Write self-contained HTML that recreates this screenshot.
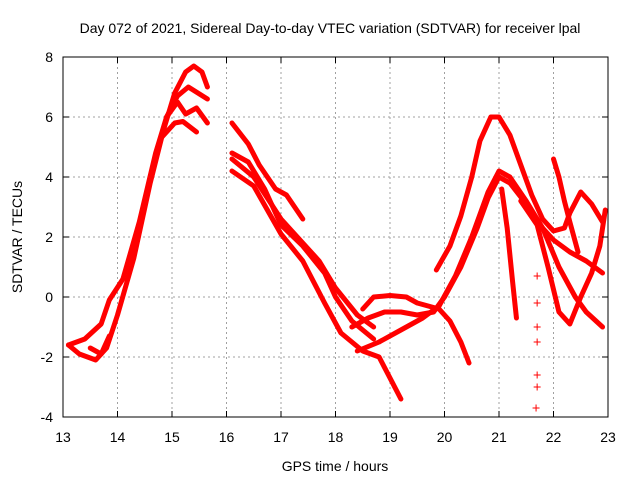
<!DOCTYPE html>
<html><head><meta charset="utf-8"><style>
body{margin:0;background:#fff}
svg text{font-family:"Liberation Sans",sans-serif;font-size:14px;fill:#000}
</style></head><body>
<svg id="chart" width="640" height="480" xmlns="http://www.w3.org/2000/svg">
<text x="330" y="33" text-anchor="middle">Day 072 of 2021, Sidereal Day-to-day VTEC variation (SDTVAR) for receiver lpal</text>
<text x="335" y="471" text-anchor="middle">GPS time / hours</text>
<text transform="translate(22,237) rotate(-90)" text-anchor="middle">SDTVAR / TECUs</text>
<g id="grid"></g><g id="series"></g><g id="axes"></g>
</svg>
<script>
const xTicks=[13,14,15,16,17,18,19,20,21,22,23];
const yTicks=[-4,-2,0,2,4,6,8];
const trackA=[[13.1,-1.6],[13.3,-1.9],[13.6,-2.1],[13.8,-1.7],[14.0,-0.6],[14.3,1.3],[14.6,3.8],[14.85,5.6],[15.05,6.8],[15.25,7.5],[15.4,7.7],[15.55,7.5],[15.65,7.0]];
const trackB=[[13.1,-1.6],[13.4,-1.4],[13.7,-0.9],[13.85,-0.1],[14.1,0.6],[14.4,2.5],[14.7,4.8],[14.9,6],[15.1,6.7],[15.3,7.0],[15.65,6.6]];
const trackC=[[14.9,6.0],[15.1,6.5],[15.25,6.1],[15.45,6.3],[15.65,5.8]];
const trackD=[[14.8,5.3],[15.05,5.8],[15.2,5.85],[15.45,5.5]];
const trackLoop=[[13.5,-1.7],[13.7,-1.9],[13.85,-1.3]];
const trackE=[[16.1,5.8],[16.4,5.1],[16.6,4.4],[16.9,3.6],[17.1,3.4],[17.4,2.6]];
const trackF=[[16.1,4.8],[16.4,4.5],[16.7,3.6],[17.0,2.4],[17.4,1.7],[17.8,0.8],[18.0,0],[18.3,-0.8],[18.7,-1.4]];
const trackG=[[16.1,4.6],[16.5,4.0],[17.0,2.6],[17.3,2.0],[17.7,1.2],[18.0,0.3],[18.4,-0.6],[18.7,-1.0]];
const trackH=[[16.1,4.2],[16.5,3.7],[17.0,2.1],[17.4,1.2],[17.8,-0.2],[18.1,-1.2],[18.5,-1.8],[18.8,-2.0],[19.0,-2.7],[19.2,-3.4]];
const trackI=[[18.5,-0.4],[18.7,0.0],[19.0,0.05],[19.3,0],[19.5,-0.2],[19.9,-0.4],[20.1,-0.8],[20.3,-1.5],[20.45,-2.2]];
const trackJ=[[18.3,-1.0],[18.6,-0.7],[18.9,-0.5],[19.2,-0.5],[19.5,-0.6],[19.8,-0.5],[20.0,0],[20.3,1],[20.6,2.3],[20.8,3.3],[21.0,4.0],[21.2,3.8],[21.5,3.1],[21.8,2.3],[22.0,1.9],[22.3,1.5],[22.6,1.2],[22.9,0.8]];
const trackK=[[18.4,-1.8],[18.8,-1.5],[19.2,-1.1],[19.6,-0.7],[19.9,-0.3],[20.2,0.7],[20.5,2],[20.8,3.5],[21.0,4.2],[21.2,4.0],[21.5,3.2],[21.8,2.3],[22.1,1.0],[22.4,0],[22.6,-0.5],[22.9,-1.0]];
const trackL=[[19.85,0.9],[20.1,1.7],[20.3,2.7],[20.5,4.0],[20.65,5.2],[20.85,6.0],[21.0,6.0],[21.2,5.4],[21.4,4.4],[21.6,3.4],[21.8,2.6],[22.0,2.2],[22.2,2.3],[22.3,2.8],[22.5,3.5],[22.7,3.1],[22.9,2.5]];
const trackM=[[21.4,3.2],[21.7,2.4],[21.9,1.0],[22.1,-0.5],[22.3,-0.9],[22.5,0],[22.7,0.8],[22.85,1.7],[22.95,2.9]];
const trackN=[[21.05,3.6],[21.15,2.3],[21.25,0.5],[21.32,-0.7]];
const trackO=[[22.0,4.6],[22.1,4.0],[22.2,3.2],[22.3,2.5],[22.45,1.5]];
const sparseT=[21.7,21.7,21.7,21.7,21.7,21.7,21.68];
const sparseV=[0.7,-0.2,-1.0,-1.5,-2.6,-3.0,-3.7];
const tracks=[trackA,trackB,trackC,trackD,trackLoop,trackE,trackF,trackG,trackH,trackI,trackJ,trackK,trackL,trackM,trackN,trackO];
const X0=63,X1=608,Y0=417,Y1=57;
const sx=t=>X0+(t-13)/(23-13)*(X1-X0);
const sy=v=>Y0-(v+4)/12*(Y0-Y1);
const NS='http://www.w3.org/2000/svg';
function mk(tag,attrs,parent){const e=document.createElementNS(NS,tag);for(const k in attrs)e.setAttribute(k,attrs[k]);parent.appendChild(e);return e;}
const grid=document.getElementById('grid'),axes=document.getElementById('axes'),ser=document.getElementById('series');
xTicks.forEach(t=>{
 if(t>13&&t<23){const g=mk('line',{x1:sx(t),x2:sx(t),y1:Y1,y2:Y0,stroke:'#a0a0a0','stroke-dasharray':'2,3'},grid);
 
 }
 const tk=mk('path',{d:`M${sx(t)},${Y0}V${Y0-6}M${sx(t)},${Y1}V${Y1+6}`,stroke:'#000'},axes);
 
 
 const tx=mk('text',{x:sx(t),y:Y0+25,'text-anchor':'middle'},axes);tx.textContent=t;
 
 
});
yTicks.forEach(v=>{
 if(v>-4&&v<8){const g=mk('line',{x1:X0,x2:X1,y1:sy(v),y2:sy(v),stroke:'#a0a0a0','stroke-dasharray':'2,3'},grid);
 
 }
 const tk=mk('path',{d:`M${X0},${sy(v)}H${X0+6}M${X1},${sy(v)}H${X1-6}`,stroke:'#000'},axes);
 
 
 const tx=mk('text',{x:X0-10,y:sy(v)+5,'text-anchor':'end'},axes);tx.textContent=v;
 
 
});
const fr=mk('rect',{x:X0,y:Y1,width:X1-X0,height:Y0-Y1,fill:'none',stroke:'#000'},axes);


tracks.forEach(tr=>{
 const p=mk('polyline',{points:tr.map(d=>sx(d[0])+','+sy(d[1])).join(' '),fill:'none',stroke:'#ff0000','stroke-width':5,'stroke-linejoin':'round','stroke-linecap':'round'},ser);
 
 
});
sparseT.forEach((t,i)=>{
 const x=sx(t),y=sy(sparseV[i]);
 const p=mk('path',{d:`M${x-3.5},${y}H${x+3.5}M${x},${y-3.5}V${y+3.5}`,stroke:'#ff0000','stroke-width':1},ser);
 
 
});
</script>
</body></html>
